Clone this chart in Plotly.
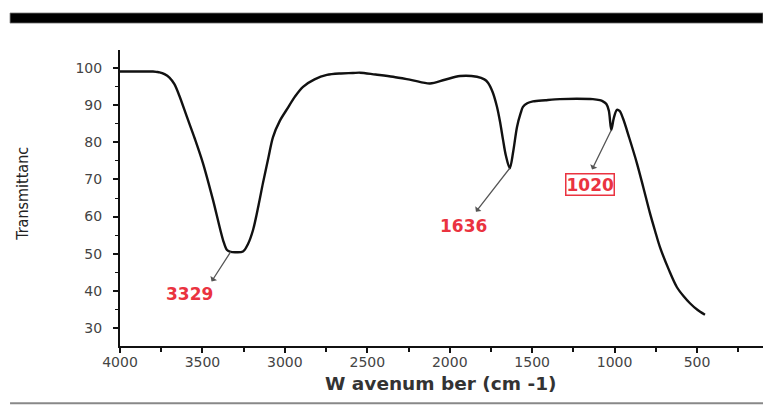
import numpy as np
import plotly.graph_objects as go

# ---- data ----
wavenumber = [4000, 3900, 3800, 3776, 3760, 3730, 3700, 3670, 3640, 3594, 3545, 3497, 3436, 3375,
              3351, 3329, 3300, 3254, 3225, 3193, 3160, 3133, 3100, 3072, 3030, 2987, 2940, 2890,
              2820, 2745, 2660, 2587, 2545, 2450, 2344, 2230, 2120, 2030, 1938, 1835, 1790, 1768,
              1740, 1714, 1695, 1677, 1660, 1636, 1615, 1592, 1570, 1556, 1530, 1495, 1420, 1332,
              1230, 1132, 1090, 1071, 1050, 1035, 1020, 1005, 986, 970, 950, 910, 865, 825, 786,
              755, 725, 670, 622, 580, 543, 500, 452]
transmittance = [99.0, 99.0, 99.0, 98.9, 98.8, 98.3, 97.4, 95.6, 92.5, 86.8, 80.8, 74.4, 64.5, 53.7,
                 51.0, 50.5, 50.4, 50.6, 52.5, 56.4, 63.0, 69.0, 75.8, 81.4, 85.8, 88.9, 92.2, 94.9,
                 96.9, 98.1, 98.5, 98.6, 98.7, 98.2, 97.6, 96.7, 95.8, 96.8, 97.8, 97.6, 96.9, 96.0,
                 93.5, 89.6, 85.5, 80.7, 76.5, 73.0, 77.5, 84.1, 87.8, 89.5, 90.5, 91.0, 91.3, 91.6,
                 91.7, 91.6, 91.3, 91.0, 90.3, 88.5, 83.3, 86.5, 88.7, 88.4, 86.5, 81.0, 74.4, 67.7,
                 61.0, 56.2, 51.8, 45.6, 41.0, 38.5, 36.7, 35.0, 33.6]

peak_positions = [3329, 1636, 1020]
peak_labels = ["3329", "1636", "1020"]

x_ticks = [4000, 3500, 3000, 2500, 2000, 1500, 1000, 500]
y_ticks = [30, 40, 50, 60, 70, 80, 90, 100]

RED = "#ea3340"

fig = go.Figure()
fig.add_trace(go.Scatter(
    x=wavenumber, y=transmittance, mode="lines",
    line=dict(color="#111111", width=2.4, shape="spline", smoothing=0.9),
    hoverinfo="skip", showlegend=False))

# curve value at each labelled peak
wn_inc = np.array(wavenumber[::-1], dtype=float)
tr_inc = np.array(transmittance[::-1], dtype=float)
peak_y = [float(np.interp(p, wn_inc, tr_inc)) for p in peak_positions]

# (arrow head offset px, text offset px, boxed)
styles = [
    dict(ax=-20, ay=31, xs=-41, ys=-42, box=False),
    dict(ax=-35, ay=45, xs=-46, ys=-58, box=False),
    dict(ax=-20, ay=41, xs=-21, ys=-55, box=True),
]

annotations = []
for p, py, lab, st in zip(peak_positions, peak_y, peak_labels, styles):
    annotations.append(dict(
        x=p, y=py, xref="x", yref="y", text="", showarrow=True,
        ax=st["ax"], ay=st["ay"], arrowside="start", arrowhead=2, arrowsize=1.1,
        arrowwidth=1.3, arrowcolor="#555555", standoff=0, startstandoff=0))
    annotations.append(dict(
        x=p, y=py, xref="x", yref="y", text=lab, showarrow=False,
        xshift=st["xs"], yshift=st["ys"],
        font=dict(family="DejaVu Sans", size=17, color=RED, weight="bold"),
        bordercolor=RED if st["box"] else "rgba(0,0,0,0)",
        borderwidth=1.5 if st["box"] else 0, borderpad=0,
        bgcolor="white" if st["box"] else "rgba(0,0,0,0)"))

# axis titles
annotations.append(dict(
    x=-0.151, y=0.514, xref="paper", yref="paper", text="Transmittanc",
    textangle=-90, showarrow=False, xanchor="center", yanchor="middle",
    font=dict(family="Liberation Sans Narrow, DejaVu Sans Condensed, sans-serif", size=16, color="#222222")))
annotations.append(dict(
    x=0.499, y=-0.125, xref="paper", yref="paper", text="W avenum ber (cm -1)",
    showarrow=False, xanchor="center", yanchor="middle",
    font=dict(family="DejaVu Sans", size=18.5, color="#333333", weight="bold")))

shapes = [
    # thick black band at top
    dict(type="rect", xref="paper", yref="paper", x0=-0.171, x1=1.0,
         y0=1.091, y1=1.125, fillcolor="black", line=dict(width=0.8, color="#777777")),
    # thin gray rule at bottom
    dict(type="line", xref="paper", yref="paper", x0=-0.171, x1=1.0,
         y0=-0.193, y1=-0.193, line=dict(width=2, color="#888888")),
]

fig.update_layout(
    width=763, height=407,
    margin=dict(l=120, r=0, t=50, b=61),
    paper_bgcolor="white", plot_bgcolor="white",
    annotations=annotations, shapes=shapes,
    xaxis=dict(
        range=[4000, 100], tickvals=x_ticks, ticktext=[str(v) for v in x_ticks],
        showgrid=False, zeroline=False, showline=True, linecolor="#111111", linewidth=1.6,
        ticks="outside", ticklen=5, tickwidth=1.6, tickcolor="#111111",
        minor=dict(dtick=250, tick0=0, ticks="outside", ticklen=4, tickwidth=1.5, tickcolor="#111111"),
        tickfont=dict(family="DejaVu Sans", size=14, color="#444444"),
        ticklabelstandoff=-3),
    yaxis=dict(
        range=[25.2, 104.8], tickvals=y_ticks, ticktext=[str(v) for v in y_ticks],
        showgrid=False, zeroline=False, showline=True, linecolor="#111111", linewidth=2,
        ticks="outside", ticklen=5, tickwidth=1.6, tickcolor="#111111",
        minor=dict(dtick=5, tick0=0, ticks="outside", ticklen=3, tickwidth=1.3, tickcolor="#111111"),
        tickfont=dict(family="DejaVu Sans", size=14, color="#444444"),
        ticklabelstandoff=8),
)

fig.write_html("out.html")
